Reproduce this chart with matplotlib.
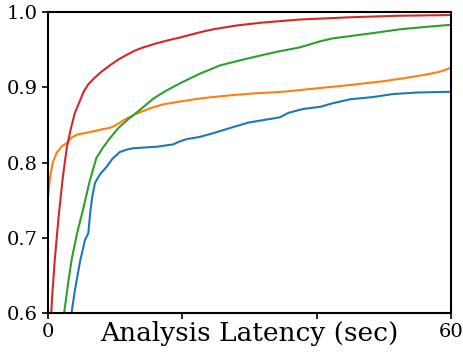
import matplotlib
matplotlib.use("Agg")
import matplotlib.pyplot as plt

plt.rcParams["font.family"] = "DejaVu Serif"

# latency (sec) vs cumulative fraction
red_x = [0.2, 0.6, 1.0, 1.6, 2.2, 2.8, 3.4, 4.0, 4.8, 5.3, 6.0, 7.0, 8.0, 9.2, 10.5, 11.7, 13.0,
         14.2, 16.0, 17.7, 19.6, 22.6, 24.6, 28.0, 32.0, 37.5, 45.0, 52.0, 60.0]
red_y = [0.55, 0.62, 0.67, 0.73, 0.78, 0.82, 0.845, 0.866, 0.883, 0.894, 0.904, 0.913, 0.921,
         0.929, 0.937, 0.943, 0.949, 0.953, 0.958, 0.962, 0.966, 0.973, 0.977, 0.982, 0.986,
         0.990, 0.993, 0.995, 0.996]

orange_x = [0.0, 0.3, 0.7, 1.3, 2.0, 2.8, 3.5, 4.3, 6.0, 8.0, 9.2, 10.0, 11.2, 13.2, 15.2, 17.0,
            19.6, 22.6, 24.6, 28.0, 31.0, 35.0, 40.5, 45.0, 49.9, 53.0, 56.4, 58.5, 60.0]
orange_y = [0.755, 0.78, 0.80, 0.813, 0.821, 0.826, 0.833, 0.837, 0.840, 0.844, 0.846, 0.849,
            0.856, 0.865, 0.872, 0.877, 0.881, 0.885, 0.887, 0.890, 0.892, 0.894, 0.899, 0.903,
            0.908, 0.912, 0.917, 0.921, 0.926]

green_x = [2.4, 3.0, 3.5, 4.3, 5.2, 6.2, 7.2, 8.2, 9.2, 10.5, 12.0, 13.7, 15.7, 17.5, 19.6,
           22.6, 25.6, 29.6, 34.0, 37.5, 40.5, 42.4, 45.0, 48.4, 52.4, 56.0, 60.0]
green_y = [0.60, 0.64, 0.67, 0.705, 0.737, 0.775, 0.806, 0.82, 0.832, 0.846, 0.858, 0.870,
           0.885, 0.895, 0.905, 0.918, 0.929, 0.938, 0.947, 0.953, 0.961, 0.965, 0.968, 0.972,
           0.977, 0.980, 0.983]

blue_x = [3.5, 4.0, 4.5, 4.8, 5.2, 5.5, 6.0, 6.3, 6.6, 7.0, 7.8, 8.7, 9.6, 10.7, 11.7, 12.7,
          14.5, 16.2, 18.6, 19.6, 20.6, 22.6, 24.6, 26.8, 29.8, 32.5, 34.5, 35.8, 37.9, 40.5,
          42.5, 45.0, 48.4, 51.4, 55.0, 60.0]
blue_y = [0.60, 0.63, 0.655, 0.67, 0.685, 0.697, 0.706, 0.735, 0.755, 0.773, 0.785, 0.794,
          0.805, 0.814, 0.817, 0.819, 0.820, 0.821, 0.824, 0.828, 0.831, 0.834, 0.839, 0.845,
          0.853, 0.857, 0.860, 0.866, 0.871, 0.874, 0.879, 0.884, 0.887, 0.891, 0.893, 0.894]

fig = plt.figure(figsize=(4.63, 3.53), dpi=100)
ax = fig.add_axes([0.1037, 0.1133, 0.8703, 0.8527])

ax.plot(blue_x, blue_y, color="#1f77b4", lw=1.5)
ax.plot(orange_x, orange_y, color="#ff7f0e", lw=1.5)
ax.plot(green_x, green_y, color="#2ca02c", lw=1.5)
ax.plot(red_x, red_y, color="#d62728", lw=1.5)

ax.set_xlim(0, 60)
ax.set_ylim(0.6, 1.0)
ax.set_xticks([0, 20, 40, 60])
ax.set_xticklabels(["0", "", "", "60"])
ax.set_yticks([0.6, 0.7, 0.8, 0.9, 1.0])
ax.tick_params(labelsize=14, width=1.2, length=4)
for s in ax.spines.values():
    s.set_linewidth(1.5)

ax.set_xlabel("Analysis Latency (sec)", fontsize=19, labelpad=-15)

fig.savefig("out.png", dpi=100)
